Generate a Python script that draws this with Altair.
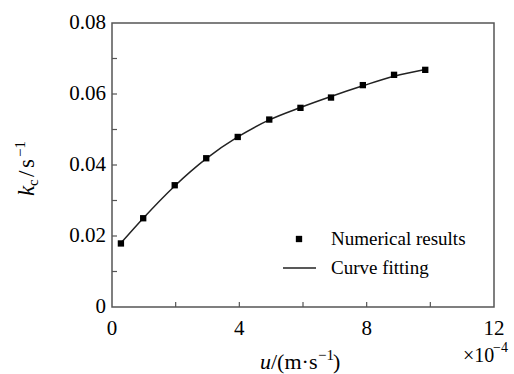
import altair as alt
import pandas as pd

# ---- data ----
u_vals = [0.28, 0.98, 1.97, 2.96, 3.95, 4.94, 5.92, 6.88, 7.88, 8.86, 9.84]
kc_vals = [0.0179, 0.0250, 0.0343, 0.0419, 0.0479, 0.0528, 0.0561, 0.0590, 0.0625, 0.0654, 0.0668]
fit_u = [0.28, 0.98, 1.97, 2.96, 3.95, 4.94, 5.92, 6.88, 7.88, 8.86, 9.84]
fit_kc = [0.0180, 0.0250, 0.0341, 0.0418, 0.0479, 0.0527, 0.0562, 0.0593, 0.0623, 0.0650, 0.0669]
x_tick_pos = [2, 4, 6, 8, 10]
x_label_vals = [0, 4, 8, 12]
x_label_text = ["0", "4", "8", "12"]
y_tick_pos = [0.01, 0.02, 0.03, 0.04, 0.05, 0.06, 0.07]
y_label_vals = [0, 0.02, 0.04, 0.06, 0.08]
y_label_text = ["0", "0.02", "0.04", "0.06", "0.08"]

W, H = 382, 284
SERIF = "Liberation Serif"

pts = pd.DataFrame({"u": u_vals, "kc": kc_vals})
fit = pd.DataFrame({"u": fit_u, "kc": fit_kc})
xt = pd.DataFrame({"u": x_tick_pos})
yt = pd.DataFrame({"kc": y_tick_pos})
xl = pd.DataFrame({"u": x_label_vals, "lab": x_label_text})
yl = pd.DataFrame({"kc": y_label_vals, "lab": y_label_text})
one = pd.DataFrame({"a": [0]})

xscale = alt.Scale(domain=[0, 12], nice=False, zero=False)
yscale = alt.Scale(domain=[0, 0.08], nice=False)

xaxis = alt.Axis(values=x_label_vals, ticks=False, labels=False, domain=False, grid=False, title=None)
yaxis = alt.Axis(values=y_label_vals, ticks=False, labels=False, domain=False, grid=False, title=None)

X = lambda: alt.X("u:Q", scale=xscale, axis=xaxis)
Y = lambda: alt.Y("kc:Q", scale=yscale, axis=yaxis)

line = alt.Chart(fit).mark_line(color="#222", strokeWidth=1.5, interpolate="monotone").encode(
    x=X(), y=Y())
points = alt.Chart(pts).mark_point(shape="square", filled=True, color="black", size=40, opacity=1).encode(
    x=X(), y=Y())
xticks = alt.Chart(xt).mark_rule(color="#555", strokeWidth=1.2).encode(
    x=X(), y=alt.value(H), y2=alt.value(H - 5))
yticks = alt.Chart(yt).mark_rule(color="#555", strokeWidth=1.2).encode(
    y=Y(), x=alt.value(0), x2=alt.value(5))
xlabels = alt.Chart(xl).mark_text(font=SERIF, fontSize=21, color="black", align="center", baseline="top").encode(
    x=X(), y=alt.value(H + 11), text="lab:N")
ylabels = alt.Chart(yl).mark_text(font=SERIF, fontSize=21, color="black", align="right", baseline="middle").encode(
    y=Y(), x=alt.value(-6), text="lab:N")

def txt(s, x, y, size=20, style="normal", angle=0, align="left", baseline="alphabetic"):
    kw = dict(font=SERIF, fontSize=size, fontStyle=style, color="black", align=align, baseline=baseline)
    if angle:
        kw["angle"] = angle
    return alt.Chart(one).mark_text(**kw).encode(x=alt.value(x), y=alt.value(y), text=alt.value(s))

# legend
leg_pt = alt.Chart(one).mark_point(shape="square", filled=True, color="black", size=40, opacity=1).encode(
    x=alt.value(187), y=alt.value(216))
leg_ln = alt.Chart(one).mark_rule(color="#222", strokeWidth=1.5).encode(
    x=alt.value(171), x2=alt.value(204), y=alt.value(245))
leg_t1 = txt("Numerical results", 219, 216, size=19, baseline="middle")
leg_t2 = txt("Curve fitting", 219, 245, size=19, baseline="middle")

# y title (rotated): k_c / s^-1
yx = -78
ytitle = [
    txt("k", yx, 173, size=23, style="italic", angle=270),
    txt("c", yx + 4, 163, size=15, angle=270),
    txt("/", yx, 154, size=23, angle=270),
    txt("s", yx, 145, size=23, angle=270),
    txt("\u22121", yx - 9, 134, size=15, angle=270),
]
# x title: u/(m·s^-1)
xb = 346
xtitle = [
    txt("u", 148, xb, size=22, style="italic"),
    txt("/(m\u00b7s", 159, xb, size=22),
    txt("\u22121", 206, xb - 9, size=15),
    txt(")", 221, xb, size=22),
]
# multiplier
mult = [
    txt("\u00d710", 351, 339, size=20),
    txt("\u22124", 381, 329, size=14),
]

chart = alt.layer(line, points, xticks, yticks, xlabels, ylabels, leg_pt, leg_ln, leg_t1, leg_t2,
                  *ytitle, *xtitle, *mult).properties(
    width=W, height=H,
    padding={"left": 112, "top": 23, "right": 20, "bottom": 67},
    autosize=alt.AutoSizeParams(type="none"),
    background="white",
).configure(font=SERIF).configure_view(stroke="#555", strokeWidth=1.5)

chart.save("out.html", embed_options={"renderer": "svg", "actions": False})
